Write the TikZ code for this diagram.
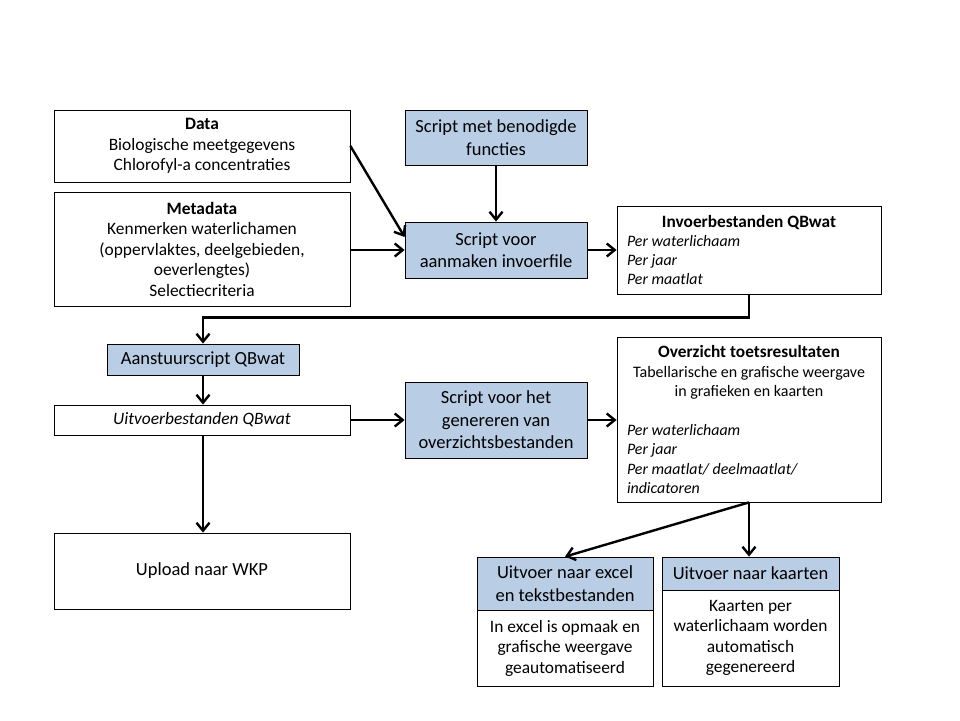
\documentclass[tikz,border=0pt]{standalone}
\usepackage{fontspec}
\setmainfont{Carlito}
\usetikzlibrary{arrows.meta}
\definecolor{boxblue}{RGB}{185,205,229}
\newcommand{\perline}[1]{\makebox[244pt][l]{\fontsize{15.9}{19}\selectfont\textit{#1}}}

\begin{document}
\begin{tikzpicture}[x=1pt,y=-1pt]

\tikzset{box/.style = {draw, rectangle, inner sep=0pt, align=center, line width=0.8pt, font=\fontsize{17.4}{20.5}\selectfont}}
\tikzset{script/.style = {box, fill=boxblue, font=\fontsize{18.5}{22.5}\selectfont}}
\tikzset{edge/.style = {-{Straight Barb[length=8pt,width=13pt]}, line width=2.4pt}}
\useasboundingbox (0,0) rectangle (960,720);
%boxes
\node[box, minimum width=296pt, minimum height=72pt] (1) at (202,146) {\textbf{Data}\\Biologische meetgegevens\\Chlorofyl-a concentraties};
\node[box, minimum width=296pt, minimum height=114pt] (2) at (202,249) {\textbf{Metadata}\\Kenmerken waterlichamen\\(oppervlaktes, deelgebieden,\\oeverlengtes)\\Selectiecriteria};
\node[script, minimum width=182pt, minimum height=55pt] (3) at (496,137.5) {Script met benodigde\\functies};
\node[script, minimum width=182pt, minimum height=56pt] (4) at (496,250) {Script voor\\aanmaken invoerfile};
\node[box, minimum width=264pt, minimum height=88pt, font=\fontsize{17.3}{19}\selectfont] (5) at (749,250) {\textbf{Invoerbestanden QBwat}\\\perline{Per waterlichaam}\\\perline{Per jaar}\\\perline{Per maatlat}};
\node[script, minimum width=192pt, minimum height=31pt] (7) at (203,359.5) {Aanstuurscript QBwat};
\node[box, minimum width=296pt, minimum height=30pt] (8) at (202,420) {\textit{Uitvoerbestanden QBwat}};
\node[script, minimum width=182pt, minimum height=76pt] (6) at (496,420) {Script voor het\\genereren van\\overzichtsbestanden};
\node[box, minimum width=264pt, minimum height=165pt, font=\fontsize{16}{19.5}\selectfont] (9) at (749,419.5) {{\fontsize{17.3}{19.5}\selectfont\textbf{Overzicht toetsresultaten}}\\Tabellarische en grafische weergave\\in grafieken en kaarten\\[19pt]\perline{Per waterlichaam}\\\perline{Per jaar}\\\perline{Per maatlat/ deelmaatlat/}\\\perline{indicatoren}};
\node[box, minimum width=296pt, minimum height=76pt, font=\fontsize{18.5}{22}\selectfont] (13) at (202,571) {Upload naar WKP};
\node[script, minimum width=176pt, minimum height=53pt] (10) at (565,583.5) {Uitvoer naar excel\\en tekstbestanden};
\node[box, minimum width=176pt, minimum height=76pt] (11) at (565,648) {In excel is opmaak en\\grafische weergave\\geautomatiseerd};
\node[script, minimum width=177pt, minimum height=33pt] (12) at (750.5,573.5) {Uitvoer naar kaarten};
\node[box, minimum width=177pt, minimum height=96pt] (14) at (750.5,638) {Kaarten per\\waterlichaam worden\\automatisch\\gegenereerd};
%connectors
\draw [edge] (1.east) -- ([yshift=13pt]4.west);
\draw [edge] (2.east |- 4.west) -- (4.west);
\draw [edge] (3) -- (4);
\draw [edge] (4) -- (5);
\draw [edge] (5.south) -- ++(0,23) -| (7.north);
\draw [edge] (7) -- (7 |- 8.north);
\draw [edge] (8.south -| 7) -- (13.north -| 7);
\draw [edge] (8) -- (6);
\draw [edge] (6) -- (9.west |- 6);
\draw [edge] (9.south) -- (10.north);
\draw [edge] (9.south) -- (9.south |- 12.north);

\end{tikzpicture}
\end{document}
